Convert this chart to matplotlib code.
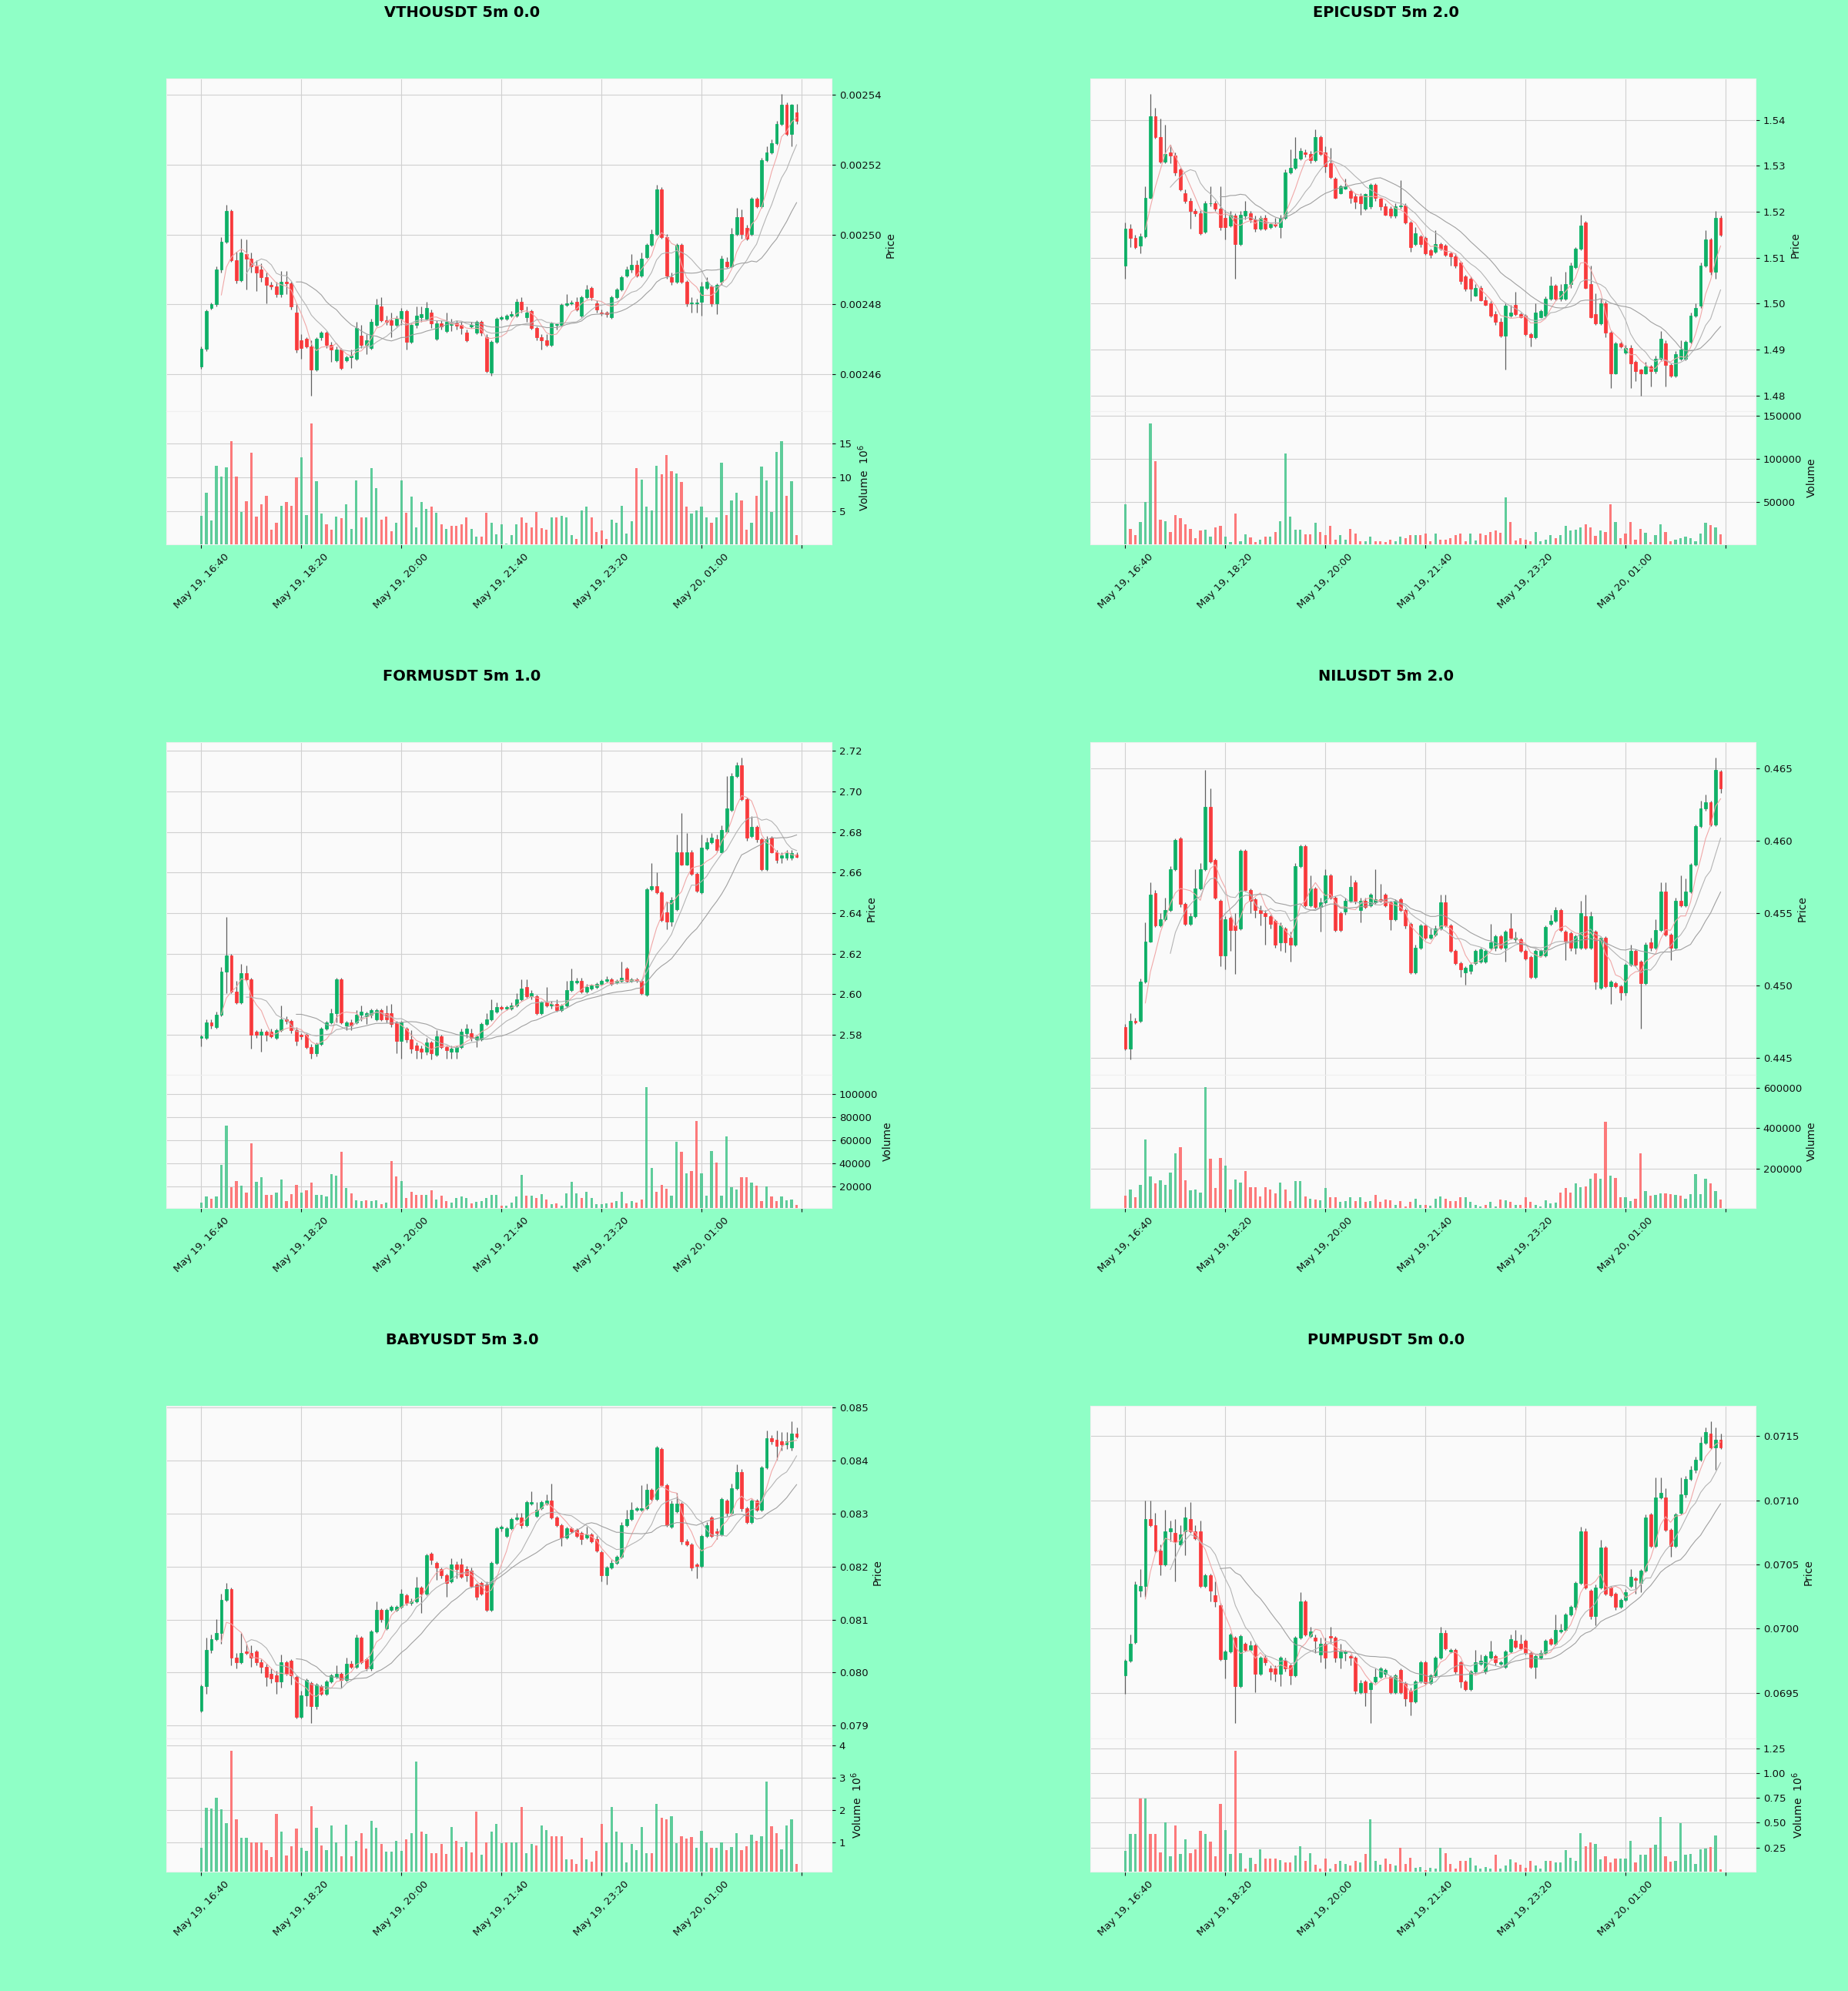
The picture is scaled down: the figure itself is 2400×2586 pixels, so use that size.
import numpy as np
import pandas as pd
import matplotlib
matplotlib.use("Agg")
import matplotlib.pyplot as plt
from matplotlib.ticker import FixedLocator, FuncFormatter, FormatStrFormatter

# ---------------- data ----------------
start_time = "2025-05-19 16:40"
bar_minutes = "5min"
titles = ["VTHOUSDT 5m 0.0", "EPICUSDT 5m 2.0", "FORMUSDT 5m 1.0",
          "NILUSDT 5m 2.0", "BABYUSDT 5m 3.0", "PUMPUSDT 5m 0.0"]

# VTHOUSDT (prices in units of 1e-5 USDT, volume in 1e6)
vtho_open = [246.21, 246.72, 247.89, 248.01, 249.00, 249.80, 250.68, 249.27, 248.69, 249.45,
             249.31, 249.09, 249.00, 248.78, 248.56, 248.51, 248.29, 248.65, 248.60, 247.76,
             246.96, 247.01, 246.79, 246.12, 247.05, 247.19, 246.83, 246.39, 246.70, 246.39,
             246.48, 246.43, 247.10, 246.83, 246.74, 247.41, 247.94, 247.54, 247.54, 247.41,
             247.58, 247.81, 246.92, 247.41, 247.63, 247.58, 247.76, 247.01, 247.45, 247.23,
             247.41, 247.45, 247.41, 247.19, 247.36, 247.19, 247.50, 247.05, 246.03, 246.92,
             247.58, 247.58, 247.67, 247.67, 248.07, 247.63, 247.81, 247.32, 247.05, 246.96,
             246.83, 247.41, 247.41, 247.98, 248.03, 248.07, 247.67, 248.20, 248.47, 248.03,
             247.76, 247.76, 247.63, 248.20, 248.42, 248.82, 249.00, 249.13, 248.82, 249.35,
             249.71, 250.02, 251.30, 249.93, 248.78, 248.65, 249.71, 248.65, 248.03, 248.03,
             248.07, 248.47, 248.51, 248.03, 248.65, 249.22, 249.09, 250.02, 250.50, 250.19,
             250.02, 251.04, 250.81, 252.14, 252.36, 252.63, 253.16, 253.73, 252.89, 253.51]
vtho_close = [246.72, 247.81, 248.01, 249.00, 249.80, 250.68, 249.27, 248.69, 249.49, 249.31,
              249.09, 248.91, 248.78, 248.56, 248.51, 248.29, 248.65, 248.60, 247.94, 246.70,
              246.74, 246.79, 246.12, 247.01, 247.19, 246.83, 246.70, 246.70, 246.17, 246.48,
              246.52, 247.32, 246.83, 246.96, 247.50, 247.98, 247.54, 247.50, 247.41, 247.58,
              247.81, 246.92, 247.41, 247.67, 247.72, 247.89, 247.45, 247.45, 247.36, 247.50,
              247.43, 247.38, 247.32, 246.96, 247.42, 247.50, 247.19, 246.08, 246.92, 247.58,
              247.62, 247.67, 247.72, 248.07, 247.85, 247.76, 247.32, 247.05, 246.96, 246.83,
              247.45, 247.43, 247.98, 248.03, 248.05, 247.85, 248.20, 248.42, 248.20, 247.85,
              247.74, 247.72, 248.20, 248.42, 248.78, 249.00, 249.13, 248.82, 249.31, 249.71,
              250.02, 251.30, 249.93, 248.82, 248.65, 249.71, 248.65, 248.03, 248.05, 248.05,
              248.51, 248.65, 248.03, 248.56, 249.31, 249.09, 250.02, 250.50, 250.02, 249.88,
              251.04, 250.81, 252.14, 252.36, 252.63, 253.16, 253.73, 252.89, 253.73, 253.25]
vtho_high = [246.80, 247.86, 248.05, 249.09, 249.93, 250.86, 250.73, 249.50, 249.89, 249.85,
             249.49, 249.27, 249.18, 248.91, 248.65, 248.65, 248.96, 248.96, 248.65, 248.03,
             247.14, 247.05, 246.96, 247.05, 247.23, 247.23, 246.92, 246.79, 246.74, 246.52,
             246.70, 247.50, 247.41, 247.14, 247.58, 248.16, 248.20, 247.67, 247.76, 247.67,
             247.89, 247.85, 247.45, 247.94, 247.94, 248.07, 247.85, 247.54, 247.54, 247.76,
             247.58, 247.54, 247.50, 247.27, 247.50, 247.54, 247.54, 247.14, 246.96, 247.63,
             247.67, 247.72, 247.81, 248.16, 248.20, 247.94, 247.85, 247.36, 247.14, 247.14,
             247.50, 247.45, 248.03, 248.29, 248.12, 248.20, 248.25, 248.56, 248.51, 248.12,
             247.85, 247.81, 248.25, 248.47, 248.82, 249.09, 249.44, 249.27, 249.49, 249.75,
             250.15, 251.43, 251.35, 250.02, 248.91, 249.75, 249.75, 248.69, 248.20, 248.16,
             248.65, 248.78, 248.56, 248.60, 249.40, 249.35, 250.20, 250.77, 250.73, 250.28,
             251.08, 251.08, 252.19, 252.54, 252.72, 253.25, 254.04, 253.78, 253.75, 253.75]
vtho_low = [246.15, 246.66, 247.85, 247.94, 248.90, 249.75, 249.22, 248.60, 248.65, 248.42,
            248.91, 248.38, 248.65, 248.03, 248.42, 248.20, 248.20, 248.29, 247.85, 246.61,
            246.43, 246.74, 245.37, 246.08, 246.96, 246.74, 246.35, 246.35, 246.12, 246.35,
            246.17, 246.39, 246.74, 246.57, 246.70, 247.36, 247.50, 247.41, 247.05, 247.36,
            247.41, 246.70, 246.88, 247.32, 247.50, 247.54, 247.32, 246.96, 247.27, 247.19,
            247.23, 247.27, 247.14, 246.92, 247.32, 247.14, 247.10, 246.03, 245.95, 246.88,
            247.54, 247.54, 247.63, 247.63, 247.76, 247.50, 247.27, 246.96, 246.70, 246.79,
            246.79, 247.27, 247.36, 247.94, 247.98, 247.81, 247.63, 248.16, 248.12, 247.76,
            247.67, 247.63, 247.58, 248.16, 248.38, 248.78, 248.91, 248.78, 248.78, 249.31,
            249.66, 249.97, 249.88, 248.73, 248.56, 248.60, 248.60, 247.94, 247.76, 247.76,
            247.67, 248.42, 247.94, 247.72, 248.56, 249.05, 249.05, 249.97, 249.88, 249.84,
            249.97, 250.77, 250.77, 252.10, 252.32, 252.58, 253.12, 252.85, 252.54, 253.16]
vtho_volume = [4.3, 7.7, 3.6, 11.7, 10.1, 11.5, 15.4, 10.1, 4.8, 6.5,
               13.6, 4.2, 6.0, 7.3, 2.2, 3.3, 5.8, 6.3, 5.8, 10.0,
               13.0, 4.4, 18.0, 9.4, 4.6, 3.0, 2.2, 4.2, 3.9, 6.0,
               2.3, 9.5, 4.0, 4.0, 11.4, 8.4, 3.7, 4.2, 2.0, 3.2,
               9.5, 4.7, 7.1, 2.6, 6.3, 5.3, 5.6, 4.7, 3.0, 2.3,
               2.8, 2.8, 3.0, 4.1, 2.3, 1.2, 1.2, 4.7, 3.3, 1.5,
               3.0, 0.2, 1.4, 3.0, 4.0, 3.2, 2.6, 4.9, 2.4, 2.2,
               4.0, 4.0, 4.3, 4.0, 1.4, 0.9, 5.1, 5.6, 4.1, 1.9,
               2.1, 0.9, 3.7, 3.3, 5.8, 1.7, 3.5, 11.4, 9.7, 5.6,
               5.1, 11.7, 10.5, 13.3, 10.9, 10.6, 9.3, 5.7, 4.6, 5.1,
               5.6, 4.0, 3.2, 4.0, 12.1, 4.4, 6.6, 7.7, 6.6, 2.2,
               3.3, 7.2, 11.6, 9.5, 4.9, 13.7, 15.3, 7.2, 9.4, 1.4]

# EPICUSDT
epic_open = [1.5082, 1.5164, 1.5143, 1.5126, 1.5147, 1.5231, 1.5407, 1.5363, 1.5309, 1.5329,
             1.5322, 1.5292, 1.5241, 1.5224, 1.5201, 1.5197, 1.5157, 1.5218, 1.5218, 1.5207,
             1.5187, 1.5170, 1.5191, 1.5130, 1.5191, 1.5197, 1.5184, 1.5164, 1.5187, 1.5167,
             1.5174, 1.5167, 1.5187, 1.5285, 1.5295, 1.5316, 1.5329, 1.5326, 1.5312, 1.5363,
             1.5329, 1.5305, 1.5272, 1.5241, 1.5251, 1.5245, 1.5234, 1.5234, 1.5207, 1.5211,
             1.5258, 1.5228, 1.5211, 1.5207, 1.5191, 1.5211, 1.5214, 1.5177, 1.5130, 1.5147,
             1.5143, 1.5116, 1.5113, 1.5130, 1.5126, 1.5109, 1.5103, 1.5089, 1.5059, 1.5055,
             1.5018, 1.5035, 1.5008, 1.5001, 1.4978, 1.4961, 1.4930, 1.4974, 1.4998, 1.4978,
             1.4974, 1.4934, 1.4927, 1.4971, 1.4974, 1.5011, 1.5039, 1.5011, 1.5011, 1.5042,
             1.5079, 1.5120, 1.5177, 1.5042, 1.4978, 1.4957, 1.5001, 1.4937, 1.4849, 1.4914,
             1.4893, 1.4903, 1.4873, 1.4856, 1.4849, 1.4863, 1.4853, 1.4880, 1.4914, 1.4866,
             1.4843, 1.4880, 1.4880, 1.4917, 1.4974, 1.4995, 1.5082, 1.5140, 1.5069, 1.5187]
epic_close = [1.5164, 1.5143, 1.5123, 1.5147, 1.5231, 1.5407, 1.5363, 1.5309, 1.5326, 1.5322,
              1.5285, 1.5248, 1.5224, 1.5201, 1.5196, 1.5153, 1.5218, 1.5219, 1.5207, 1.5167,
              1.5167, 1.5194, 1.5130, 1.5194, 1.5201, 1.5184, 1.5164, 1.5187, 1.5164, 1.5174,
              1.5170, 1.5187, 1.5285, 1.5295, 1.5316, 1.5332, 1.5326, 1.5312, 1.5363, 1.5326,
              1.5299, 1.5275, 1.5231, 1.5255, 1.5255, 1.5231, 1.5221, 1.5218, 1.5238, 1.5258,
              1.5231, 1.5211, 1.5194, 1.5191, 1.5211, 1.5214, 1.5177, 1.5123, 1.5153, 1.5130,
              1.5109, 1.5106, 1.5130, 1.5120, 1.5106, 1.5103, 1.5082, 1.5049, 1.5032, 1.5032,
              1.5035, 1.5008, 1.4998, 1.4974, 1.4961, 1.4930, 1.4995, 1.4981, 1.4978, 1.4971,
              1.4934, 1.4927, 1.4981, 1.4984, 1.5011, 1.5039, 1.5011, 1.5028, 1.5042, 1.5082,
              1.5120, 1.5170, 1.5035, 1.4971, 1.4957, 1.5001, 1.4937, 1.4849, 1.4914, 1.4907,
              1.4903, 1.4870, 1.4853, 1.4849, 1.4863, 1.4853, 1.4880, 1.4924, 1.4866, 1.4843,
              1.4890, 1.4900, 1.4917, 1.4974, 1.4991, 1.5082, 1.5140, 1.5069, 1.5187, 1.5150]
epic_high = [1.5177, 1.5174, 1.5150, 1.5153, 1.5255, 1.5457, 1.5427, 1.5403, 1.5390, 1.5346,
             1.5329, 1.5295, 1.5248, 1.5231, 1.5207, 1.5204, 1.5224, 1.5255, 1.5224, 1.5255,
             1.5204, 1.5201, 1.5197, 1.5201, 1.5224, 1.5201, 1.5191, 1.5191, 1.5194, 1.5177,
             1.5187, 1.5194, 1.5292, 1.5336, 1.5363, 1.5339, 1.5336, 1.5332, 1.5380, 1.5366,
             1.5343, 1.5339, 1.5275, 1.5258, 1.5272, 1.5251, 1.5241, 1.5241, 1.5241, 1.5262,
             1.5262, 1.5231, 1.5218, 1.5211, 1.5218, 1.5268, 1.5218, 1.5180, 1.5167, 1.5150,
             1.5147, 1.5120, 1.5160, 1.5133, 1.5130, 1.5113, 1.5109, 1.5093, 1.5062, 1.5059,
             1.5042, 1.5039, 1.5015, 1.5005, 1.4984, 1.4968, 1.5001, 1.4998, 1.5025, 1.4981,
             1.4978, 1.4937, 1.5001, 1.4988, 1.5015, 1.5059, 1.5042, 1.5042, 1.5069, 1.5089,
             1.5123, 1.5194, 1.5180, 1.5082, 1.5022, 1.5011, 1.5005, 1.4941, 1.4917, 1.4917,
             1.4910, 1.4910, 1.4876, 1.4859, 1.4873, 1.4866, 1.4886, 1.4941, 1.4920, 1.4870,
             1.4897, 1.4920, 1.4920, 1.4981, 1.5001, 1.5089, 1.5160, 1.5143, 1.5201, 1.5191]
epic_low = [1.5055, 1.5123, 1.5120, 1.5109, 1.5143, 1.5228, 1.5359, 1.5305, 1.5305, 1.5305,
            1.5278, 1.5245, 1.5218, 1.5164, 1.5190, 1.5150, 1.5153, 1.5211, 1.5201, 1.5160,
            1.5140, 1.5167, 1.5055, 1.5126, 1.5184, 1.5177, 1.5157, 1.5160, 1.5160, 1.5164,
            1.5167, 1.5143, 1.5184, 1.5282, 1.5292, 1.5312, 1.5319, 1.5305, 1.5309, 1.5322,
            1.5285, 1.5272, 1.5228, 1.5238, 1.5248, 1.5218, 1.5207, 1.5194, 1.5204, 1.5207,
            1.5224, 1.5204, 1.5191, 1.5187, 1.5187, 1.5207, 1.5174, 1.5113, 1.5126, 1.5123,
            1.5106, 1.5099, 1.5109, 1.5116, 1.5103, 1.5082, 1.5078, 1.5042, 1.5028, 1.5005,
            1.5015, 1.5005, 1.4995, 1.4971, 1.4954, 1.4927, 1.4856, 1.4971, 1.4974, 1.4968,
            1.4930, 1.4907, 1.4924, 1.4968, 1.4971, 1.5008, 1.5008, 1.5005, 1.5008, 1.5035,
            1.5076, 1.5116, 1.5032, 1.4968, 1.4954, 1.4954, 1.4927, 1.4816, 1.4846, 1.4903,
            1.4890, 1.4816, 1.4832, 1.4799, 1.4846, 1.4819, 1.4849, 1.4876, 1.4819, 1.4839,
            1.4839, 1.4876, 1.4876, 1.4914, 1.4971, 1.4991, 1.5079, 1.5062, 1.5055, 1.5147]
epic_volume = [47100, 18600, 11400, 26800, 50000, 141000, 97000, 29300, 27500, 15000,
               34600, 31000, 24600, 18600, 7900, 16800, 17900, 10400, 21000, 22100,
               9600, 3600, 37100, 4300, 12500, 8900, 3600, 6100, 9600, 9600,
               15700, 27500, 106000, 32800, 17900, 17900, 12500, 12500, 25700, 15000,
               11400, 22100, 6100, 11400, 6100, 18600, 13200, 4300, 4300, 9600,
               4300, 4300, 3600, 6100, 4300, 10400, 7900, 11400, 12100, 11400,
               13200, 4300, 13200, 6100, 6800, 7900, 11400, 13200, 4300, 13200,
               5400, 13200, 11400, 15000, 16800, 14300, 55000, 26800, 5400, 7900,
               6100, 4300, 15700, 4300, 6100, 11400, 7900, 11400, 22100, 16800,
               17900, 20400, 23900, 20400, 10700, 16800, 15700, 47100, 26800, 7900,
               13200, 26800, 6100, 18600, 14300, 3600, 11400, 23900, 15700, 4300,
               6100, 7900, 9600, 7900, 5000, 13200, 26400, 23200, 20400, 12500]

# FORMUSDT
form_open = [2.5784, 2.5784, 2.5860, 2.5837, 2.5899, 2.6113, 2.6190, 2.6014, 2.5960, 2.6105,
             2.6075, 2.5815, 2.5799, 2.5815, 2.5815, 2.5784, 2.5822, 2.5876, 2.5868, 2.5822,
             2.5799, 2.5799, 2.5738, 2.5707, 2.5753, 2.5830, 2.5860, 2.5906, 2.6075, 2.5845,
             2.5860, 2.5860, 2.5899, 2.5891, 2.5899, 2.5876, 2.5922, 2.5906, 2.5906, 2.5860,
             2.5769, 2.5830, 2.5776, 2.5746, 2.5730, 2.5715, 2.5761, 2.5700, 2.5792, 2.5738,
             2.5715, 2.5715, 2.5738, 2.5807, 2.5807, 2.5776, 2.5776, 2.5853, 2.5876, 2.5914,
             2.5937, 2.5929, 2.5929, 2.5945, 2.5975, 2.6036, 2.5991, 2.5991, 2.5906, 2.5960,
             2.5945, 2.5952, 2.5922, 2.5945, 2.6021, 2.6059, 2.6067, 2.6014, 2.6029, 2.6036,
             2.6052, 2.6067, 2.6075, 2.6059, 2.6067, 2.6128, 2.6067, 2.6075, 2.6067, 2.5998,
             2.6519, 2.6534, 2.6503, 2.6404, 2.6358, 2.6419, 2.6702, 2.6641, 2.6702, 2.6595,
             2.6503, 2.6718, 2.6748, 2.6764, 2.6702, 2.6802, 2.6909, 2.7078, 2.7131, 2.6963,
             2.6779, 2.6825, 2.6764, 2.6618, 2.6771, 2.6702, 2.6672, 2.6672, 2.6672, 2.6690]
form_close = [2.5794, 2.5860, 2.5845, 2.5899, 2.6113, 2.6190, 2.6014, 2.5960, 2.6105, 2.6075,
              2.5799, 2.5799, 2.5815, 2.5799, 2.5792, 2.5822, 2.5876, 2.5868, 2.5822, 2.5769,
              2.5792, 2.5738, 2.5707, 2.5753, 2.5830, 2.5860, 2.5906, 2.6075, 2.5860, 2.5860,
              2.5845, 2.5899, 2.5914, 2.5906, 2.5922, 2.5922, 2.5876, 2.5876, 2.5853, 2.5769,
              2.5860, 2.5776, 2.5730, 2.5723, 2.5715, 2.5761, 2.5707, 2.5792, 2.5738, 2.5723,
              2.5730, 2.5738, 2.5815, 2.5830, 2.5784, 2.5792, 2.5853, 2.5876, 2.5922, 2.5937,
              2.5929, 2.5937, 2.5945, 2.5975, 2.6029, 2.5991, 2.6006, 2.5906, 2.5960, 2.5945,
              2.5952, 2.5922, 2.5945, 2.6021, 2.6067, 2.6067, 2.6014, 2.6036, 2.6044, 2.6052,
              2.6067, 2.6075, 2.6052, 2.6067, 2.6082, 2.6067, 2.6075, 2.6067, 2.6006, 2.6519,
              2.6534, 2.6503, 2.6366, 2.6358, 2.6465, 2.6702, 2.6641, 2.6702, 2.6595, 2.6511,
              2.6725, 2.6748, 2.6771, 2.6710, 2.6810, 2.6917, 2.7078, 2.7131, 2.6963, 2.6771,
              2.6825, 2.6764, 2.6618, 2.6764, 2.6702, 2.6664, 2.6687, 2.6695, 2.6695, 2.6679]
form_high = [2.5799, 2.5876, 2.5876, 2.5914, 2.6136, 2.6381, 2.6197, 2.6067, 2.6151, 2.6143,
             2.6082, 2.5822, 2.5830, 2.5822, 2.5830, 2.5830, 2.5945, 2.5891, 2.5876, 2.5837,
             2.5807, 2.5807, 2.5753, 2.5761, 2.5837, 2.5868, 2.5929, 2.6082, 2.6082, 2.5868,
             2.5876, 2.5922, 2.5945, 2.5914, 2.5929, 2.5929, 2.5929, 2.5945, 2.5952, 2.5868,
             2.5868, 2.5837, 2.5822, 2.5761, 2.5746, 2.5784, 2.5769, 2.5822, 2.5799, 2.5746,
             2.5746, 2.5746, 2.5830, 2.5853, 2.5830, 2.5799, 2.5860, 2.5906, 2.5975, 2.5960,
             2.5945, 2.5945, 2.5960, 2.6006, 2.6075, 2.6075, 2.6021, 2.5998, 2.5968, 2.6036,
             2.5968, 2.5975, 2.5952, 2.6067, 2.6128, 2.6082, 2.6082, 2.6052, 2.6052, 2.6059,
             2.6075, 2.6090, 2.6082, 2.6075, 2.6159, 2.6136, 2.6082, 2.6082, 2.6075, 2.6526,
             2.6649, 2.6603, 2.6511, 2.6458, 2.6481, 2.6787, 2.6894, 2.6794, 2.6710, 2.6603,
             2.6787, 2.6771, 2.6794, 2.6787, 2.6833, 2.7078, 2.7093, 2.7146, 2.7169, 2.6970,
             2.6879, 2.6833, 2.6771, 2.6779, 2.6779, 2.6710, 2.6702, 2.6710, 2.6710, 2.6702]
form_low = [2.5742, 2.5776, 2.5830, 2.5830, 2.5891, 2.6006, 2.6006, 2.5952, 2.5952, 2.6067,
            2.5730, 2.5784, 2.5715, 2.5768, 2.5784, 2.5776, 2.5815, 2.5853, 2.5807, 2.5746,
            2.5776, 2.5730, 2.5684, 2.5692, 2.5746, 2.5822, 2.5853, 2.5860, 2.5853, 2.5822,
            2.5822, 2.5853, 2.5868, 2.5853, 2.5883, 2.5868, 2.5868, 2.5860, 2.5837, 2.5707,
            2.5684, 2.5761, 2.5707, 2.5684, 2.5684, 2.5700, 2.5677, 2.5692, 2.5730, 2.5684,
            2.5684, 2.5684, 2.5730, 2.5784, 2.5769, 2.5738, 2.5769, 2.5845, 2.5868, 2.5906,
            2.5922, 2.5922, 2.5922, 2.5937, 2.5968, 2.5983, 2.5975, 2.5899, 2.5899, 2.5937,
            2.5929, 2.5914, 2.5914, 2.5937, 2.6014, 2.6052, 2.6006, 2.6006, 2.6021, 2.6029,
            2.6044, 2.6059, 2.6044, 2.6052, 2.6059, 2.6059, 2.6059, 2.6059, 2.5998, 2.5991,
            2.6511, 2.6496, 2.6358, 2.6320, 2.6335, 2.6412, 2.6634, 2.6634, 2.6588, 2.6503,
            2.6496, 2.6710, 2.6741, 2.6702, 2.6695, 2.6794, 2.6901, 2.7070, 2.6955, 2.6756,
            2.6771, 2.6748, 2.6611, 2.6611, 2.6695, 2.6649, 2.6649, 2.6664, 2.6664, 2.6672]
form_volume = [5900, 11200, 9000, 10700, 38700, 73000, 19200, 24500, 20500, 14700,
               57000, 23700, 28000, 12500, 12500, 14700, 25900, 7200, 13300, 21300,
               14700, 16500, 23200, 12500, 12500, 11200, 30400, 29300, 49900, 18700,
               13900, 8000, 7200, 8000, 6700, 8000, 4500, 5900, 41900, 28500,
               24500, 9900, 15200, 12500, 12500, 12500, 16500, 8500, 12000, 7200,
               5900, 9900, 11200, 9900, 5100, 6400, 7200, 9900, 12500, 12500,
               3200, 3200, 5900, 11200, 29900, 12000, 12000, 9900, 13100, 8500,
               4500, 5100, 3200, 13900, 24000, 13900, 9900, 15200, 9900, 4000,
               4000, 5100, 5900, 7200, 15200, 5100, 7200, 5900, 8500, 106400,
               35700, 15200, 21300, 17900, 12000, 58700, 49900, 31200, 33100, 76500,
               31200, 12000, 50700, 40500, 12000, 63200, 19200, 17100, 28000, 28000,
               23200, 20500, 7200, 20000, 11200, 6700, 11200, 8000, 8500, 3700]

# NILUSDT
nil_open = [.44715, .44565, .44758, .44758, .45026, .45306, .45640, .45414, .45457, .45522,
            .45801, .46016, .45565, .45425, .45478, .45672, .45801, .46231, .45866, .45586,
            .45210, .45468, .45414, .45392, .45930, .45661, .45597, .45522, .45500, .45478,
            .45446, .45296, .45392, .45328, .45285, .45823, .45962, .45554, .45672, .45543,
            .45575, .45758, .45608, .45500, .45511, .45586, .45715, .45522, .45586, .45554,
            .45575, .45597, .45629, .45575, .45457, .45597, .45522, .45425, .45092, .45263,
            .45414, .45328, .45349, .45392, .45575, .45414, .45242, .45156, .45092, .45102,
            .45156, .45167, .45167, .45263, .45263, .45339, .45263, .45392, .45317, .45317,
            .45242, .45199, .45059, .45210, .45210, .45425, .45446, .45522, .45371, .45360,
            .45263, .45263, .45478, .45263, .45371, .44984, .45328, .44995, .45016, .44995,
            .44952, .45145, .45242, .45167, .45016, .45296, .45263, .45382, .45651, .45349,
            .45263, .45586, .45554, .45651, .45833, .46102, .46220, .46263, .46113, .46478]
nil_close = [.44565, .44758, .44747, .45026, .45306, .45629, .45414, .45457, .45522, .45801,
             .46005, .45565, .45425, .45478, .45672, .45801, .46231, .45855, .45608, .45210,
             .45457, .45382, .45382, .45930, .45661, .45586, .45522, .45500, .45478, .45425,
             .45285, .45414, .45296, .45285, .45823, .45962, .45554, .45672, .45543, .45575,
             .45758, .45608, .45382, .45382, .45586, .45683, .45586, .45586, .45543, .45629,
             .45597, .45586, .45554, .45457, .45586, .45522, .45414, .45092, .45263, .45414,
             .45328, .45349, .45392, .45575, .45414, .45242, .45156, .45113, .45124, .45145,
             .45242, .45253, .45242, .45296, .45339, .45263, .45371, .45328, .45328, .45242,
             .45188, .45059, .45242, .45242, .45403, .45446, .45522, .45382, .45306, .45263,
             .45339, .45500, .45263, .45478, .45026, .45328, .44995, .45026, .44995, .44952,
             .45145, .45242, .45145, .45016, .45285, .45263, .45382, .45651, .45349, .45263,
             .45586, .45554, .45651, .45833, .46102, .46220, .46263, .46113, .46489, .46360]
nil_high = [.44737, .44812, .44780, .45048, .45435, .45715, .45661, .45500, .45608, .45823,
            .46016, .46027, .45575, .45500, .45801, .45844, .46489, .46360, .45876, .45597,
            .45478, .45478, .45500, .45941, .45941, .45672, .45608, .45554, .45522, .45489,
            .45457, .45435, .45403, .45371, .45844, .45973, .45973, .45758, .45683, .45608,
            .45801, .45769, .45618, .45511, .45608, .45758, .45726, .45608, .45608, .45640,
            .45801, .45704, .45640, .45586, .45597, .45608, .45532, .45435, .45285, .45425,
            .45425, .45392, .45414, .45629, .45629, .45425, .45253, .45167, .45134, .45156,
            .45253, .45263, .45253, .45425, .45349, .45349, .45382, .45500, .45371, .45328,
            .45253, .45210, .45253, .45253, .45414, .45489, .45543, .45532, .45382, .45371,
            .45349, .45586, .45629, .45511, .45382, .45339, .45339, .45038, .45026, .45005,
            .45156, .45285, .45253, .45177, .45296, .45328, .45457, .45715, .45715, .45360,
            .45608, .45758, .45737, .45844, .46113, .46274, .46317, .46274, .46575, .46489]
nil_low = [.44554, .44489, .44737, .44747, .45016, .45296, .45403, .45403, .45446, .45511,
           .45790, .45543, .45414, .45414, .45468, .45661, .45790, .45844, .45597, .45134,
           .45113, .45242, .45081, .45382, .45651, .45500, .45468, .45414, .45285, .45392,
           .45263, .45242, .45231, .45167, .45274, .45812, .45543, .45543, .45532, .45371,
           .45565, .45597, .45371, .45371, .45489, .45575, .45565, .45435, .45532, .45543,
           .45565, .45575, .45543, .45382, .45446, .45511, .45392, .45081, .45081, .45253,
           .45317, .45317, .45339, .45382, .45403, .45231, .45145, .45059, .45005, .45081,
           .45145, .45156, .45156, .45253, .45242, .45253, .45167, .45317, .45306, .45231,
           .45177, .45048, .45048, .45199, .45199, .45414, .45435, .45371, .45177, .45242,
           .45220, .45253, .45253, .45253, .44973, .44973, .44984, .44876, .44984, .44898,
           .44930, .45134, .45134, .44704, .45005, .45242, .45253, .45371, .45339, .45177,
           .45253, .45543, .45543, .45640, .45823, .46091, .46209, .46102, .46102, .46328]
nil_volume = [65700, 93100, 55000, 119000, 345000, 159000, 124000, 139000, 116000, 180000,
              276000, 304000, 142000, 90000, 96000, 78000, 605000, 246000, 101000, 253000,
              215000, 93000, 144000, 131000, 185000, 108000, 105000, 60000, 108000, 93000,
              75000, 131000, 93000, 37000, 136000, 136000, 60000, 47000, 43000, 40000,
              101000, 55000, 55000, 32000, 37000, 55000, 37000, 55000, 32000, 37000,
              67000, 32000, 44000, 40000, 17000, 37000, 9000, 32000, 47000, 17000,
              17000, 14000, 47000, 60000, 47000, 37000, 37000, 55000, 55000, 32000,
              17000, 9000, 17000, 32000, 9000, 44000, 40000, 32000, 17000, 17000,
              55000, 32000, 17000, 9000, 40000, 24000, 29000, 78000, 101000, 78000,
              124000, 108000, 111000, 147000, 177000, 147000, 432000, 162000, 151000, 55000,
              55000, 37000, 47000, 276000, 86000, 63000, 67000, 75000, 75000, 70000,
              67000, 63000, 47000, 70000, 170000, 70000, 147000, 124000, 86000, 44000]

# BABYUSDT (volume in 1e6)
baby_open = [.079276, .079747, .080424, .080629, .080747, .081365, .081571, .080276, .080188, .080394,
             .080365, .080394, .080188, .080100, .079982, .079953, .079835, .080188, .080218, .079924,
             .079159, .079571, .079806, .079365, .079747, .079600, .079835, .079924, .079982, .079865,
             .080159, .080100, .080659, .080247, .080071, .080776, .081188, .080835, .081188, .081188,
             .081247, .081453, .081306, .081335, .081600, .081482, .082247, .082071, .081953, .081835,
             .081718, .082041, .082041, .081953, .081924, .081659, .081688, .081659, .081188, .082071,
             .082718, .082571, .082718, .082894, .082924, .082776, .083188, .082953, .083100, .083188,
             .083247, .082924, .082776, .082541, .082718, .082688, .082629, .082541, .082600, .082512,
             .082276, .081835, .081982, .082071, .082188, .082776, .082894, .083071, .083071, .083100,
             .083453, .083276, .084218, .083541, .082747, .083041, .083188, .082482, .082424, .082041,
             .082012, .082571, .082924, .082659, .082600, .083247, .083012, .083482, .083776, .083100,
             .082835, .083247, .083071, .083865, .084424, .084394, .084365, .084306, .084247, .084512]
baby_close = [.079747, .080424, .080629, .080747, .081365, .081571, .080276, .080188, .080365, .080365,
              .080276, .080188, .080100, .079924, .079894, .079835, .080188, .079982, .079953, .079159,
              .079571, .079865, .079365, .079776, .079600, .079835, .079953, .079982, .079865, .080159,
              .080100, .080659, .080188, .080071, .080776, .081188, .081012, .081188, .081247, .081247,
              .081482, .081306, .081335, .081600, .081482, .082218, .082129, .081982, .081835, .081688,
              .082041, .081953, .081806, .081835, .081629, .081424, .081482, .081188, .082071, .082718,
              .082747, .082718, .082894, .082924, .082776, .083218, .083218, .083071, .083218, .083247,
              .082924, .082776, .082541, .082718, .082659, .082571, .082512, .082600, .082482, .082306,
              .081835, .081982, .082071, .082188, .082776, .082894, .083071, .083100, .083100, .083453,
              .083276, .084247, .083541, .082776, .083188, .083188, .082482, .082424, .081982, .082012,
              .082571, .082776, .082571, .082629, .083276, .083012, .083482, .083776, .083100, .082835,
              .083247, .083071, .083865, .084424, .084365, .084276, .084306, .084365, .084512, .084453]
baby_high = [.079776, .080659, .080718, .081012, .081482, .081688, .081600, .080365, .080747, .080541,
             .080512, .080424, .080247, .080159, .080071, .080041, .080335, .080218, .080247, .079953,
             .079659, .079894, .079835, .079806, .079776, .079865, .079982, .080129, .080012, .080276,
             .080218, .080718, .080688, .080276, .080806, .081335, .081218, .081218, .081276, .081276,
             .081571, .081482, .081394, .081806, .081629, .082247, .082276, .082100, .081982, .081865,
             .082159, .082100, .082159, .082012, .081982, .081688, .081718, .081718, .082100, .082747,
             .082776, .082747, .082924, .083012, .083012, .083247, .083424, .083218, .083247, .083365,
             .083571, .082953, .082806, .082747, .082747, .082718, .082659, .082747, .082629, .082571,
             .082306, .082012, .082129, .082218, .082835, .083071, .083218, .083129, .083541, .083571,
             .083482, .084276, .084247, .083571, .083247, .083394, .083218, .082512, .082453, .082071,
             .082600, .082835, .082953, .082718, .083306, .083276, .083571, .083924, .083835, .083129,
             .083276, .083276, .083894, .084571, .084482, .084571, .084541, .084541, .084747, .084629]
baby_low = [.079247, .079600, .080365, .080600, .080541, .081335, .080129, .080071, .080159, .080335,
            .080100, .080129, .079988, .079747, .079806, .079600, .079718, .079953, .079776, .079129,
            .079129, .079365, .079041, .079306, .079571, .079571, .079806, .079894, .079718, .079835,
            .080071, .080071, .080159, .080041, .080041, .080747, .080953, .080806, .081159, .081159,
            .081218, .081276, .081276, .081306, .081129, .081453, .082041, .081747, .081776, .081424,
            .081688, .081776, .081776, .081718, .081600, .081365, .081453, .081159, .081159, .082041,
            .082659, .082541, .082688, .082865, .082718, .082747, .083159, .082924, .083071, .083159,
            .082894, .082747, .082394, .082512, .082629, .082541, .082424, .082512, .082453, .082276,
            .081718, .081659, .081953, .082041, .082159, .082747, .082865, .083041, .083041, .083071,
            .083247, .083247, .083512, .082747, .082718, .083012, .082424, .082394, .081924, .081776,
            .081982, .082541, .082541, .082512, .082571, .082953, .082982, .083453, .083041, .082806,
            .082806, .083041, .083041, .083835, .084306, .084012, .084188, .084218, .084188, .084424]
baby_volume = [.84, 2.08, 2.05, 2.38, 2.02, 1.60, 3.83, 1.72, 1.15, 1.15,
               1.01, 1.01, 1.01, .77, .54, 1.88, 1.34, .61, .89, 1.44,
               .84, .73, 2.12, 1.46, .90, .77, 1.53, 1.01, .58, 1.56,
               .58, 1.06, 1.29, .82, 1.67, 1.46, .96, .71, .71, 1.06,
               .74, 1.10, 1.29, 3.49, 1.34, 1.27, .68, .68, .96, .65,
               1.48, 1.06, .85, 1.03, .70, 1.96, .63, 1.01, 1.34, 1.58,
               .99, 1.01, 1.01, 1.01, 2.10, .68, .96, .91, 1.53, 1.39,
               1.20, 1.20, 1.20, .47, .47, .33, 1.15, .47, .42, .73,
               1.58, 1.01, 2.10, 1.34, 1.01, .39, .96, .77, 1.48, .68,
               .68, 2.19, 1.77, 1.72, 1.82, .99, 1.20, 1.12, 1.18, .84,
               1.36, 1.01, .84, .84, 1.01, .77, .87, 1.29, .77, .89,
               1.25, 1.06, 1.20, 2.88, 1.50, 1.29, .80, 1.53, 1.72, .33]

# PUMPUSDT (volume in 1e6)
pump_open = [.069638, .069748, .069893, .070294, .070330, .070852, .070803, .070609, .070500, .070755,
             .070743, .070658, .070755, .070852, .070755, .070755, .070330, .070415, .070257, .070184,
             .069760, .069820, .069930, .069553, .069881, .069833, .069869, .069650, .069772, .069687,
             .069687, .069650, .069748, .069711, .069638, .069930, .070209, .069942, .069930, .069796,
             .069881, .069942, .069930, .069772, .069808, .069784, .069772, .069505, .069590, .069529,
             .069590, .069626, .069650, .069626, .069505, .069675, .069578, .069517, .069432, .069590,
             .069735, .069578, .069638, .069772, .069966, .069820, .069833, .069735, .069590, .069529,
             .069663, .069723, .069663, .069772, .069784, .069723, .069699, .069820, .069905, .069881,
             .069905, .069808, .069699, .069772, .069808, .069917, .069881, .069978, .069990, .070112,
             .070172, .070354, .070755, .070294, .070100, .070318, .070633, .070318, .070269, .070172,
             .070221, .070330, .070391, .070354, .070451, .070888, .070646, .071022, .071022, .070767,
             .070646, .070900, .071046, .071167, .071240, .071313, .071447, .071519, .071410, .071471]
pump_close = [.069748, .069881, .070342, .070330, .070852, .070803, .070609, .070500, .070755, .070779,
              .070682, .070731, .070864, .070755, .070706, .070330, .070415, .070294, .070209, .069760,
              .069820, .069954, .069553, .069942, .069833, .069869, .069650, .069772, .069735, .069663,
              .069650, .069772, .069687, .069638, .069930, .070209, .069954, .069978, .069905, .069881,
              .069772, .069930, .069772, .069820, .069820, .069772, .069517, .069578, .069505, .069578,
              .069626, .069687, .069675, .069505, .069638, .069505, .069456, .069432, .069590, .069735,
              .069578, .069638, .069772, .069966, .069845, .069833, .069663, .069590, .069529, .069663,
              .069735, .069748, .069784, .069820, .069735, .069735, .069820, .069917, .069857, .069845,
              .069808, .069699, .069784, .069808, .069905, .069881, .069990, .069990, .070112, .070172,
              .070354, .070755, .070318, .070100, .070318, .070633, .070269, .070257, .070172, .070221,
              .070282, .070403, .070379, .070451, .070864, .070646, .071022, .071058, .070767, .070646,
              .070888, .071046, .071167, .071240, .071313, .071447, .071532, .071410, .071471, .071410]
pump_high = [.069760, .069954, .070367, .070464, .070998, .070998, .070900, .070658, .070925, .070840,
             .070852, .070803, .070949, .070985, .070803, .070840, .070427, .070427, .070367, .070197,
             .069833, .069966, .069942, .069954, .069893, .069905, .069881, .069784, .069796, .069711,
             .069711, .069784, .069772, .069723, .069942, .070282, .070221, .070015, .069954, .069930,
             .069930, .070015, .069942, .069881, .069833, .069796, .069784, .069602, .069602, .069590,
             .069687, .069699, .069687, .069638, .069650, .069687, .069590, .069541, .069602, .069748,
             .069748, .069650, .069784, .070015, .069990, .069845, .069845, .069748, .069602, .069675,
             .069833, .069796, .069796, .069905, .069796, .069748, .069833, .069954, .069990, .069954,
             .069917, .069820, .069796, .069833, .069917, .069930, .070112, .070039, .070124, .070184,
             .070367, .070791, .070779, .070306, .070342, .070694, .070646, .070330, .070282, .070233,
             .070306, .070464, .070403, .070464, .070888, .070900, .071180, .071180, .071095, .070779,
             .070900, .071180, .071192, .071265, .071337, .071495, .071568, .071617, .071568, .071519]
pump_low = [.069493, .069735, .069881, .070245, .070245, .070791, .070597, .070415, .070488, .070682,
            .070367, .070646, .070573, .070743, .070694, .070318, .070318, .070209, .070172, .069748,
            .069614, .069808, .069262, .069541, .069820, .069820, .069505, .069638, .069711, .069602,
            .069590, .069553, .069663, .069566, .069626, .069918, .069942, .069930, .069808, .069735,
            .069687, .069881, .069735, .069687, .069748, .069711, .069493, .069493, .069396, .069262,
            .069578, .069614, .069626, .069493, .069493, .069493, .069396, .069323, .069420, .069578,
            .069566, .069566, .069626, .069760, .069833, .069808, .069650, .069541, .069517, .069517,
            .069650, .069711, .069650, .069760, .069711, .069711, .069687, .069808, .069845, .069833,
            .069796, .069687, .069614, .069760, .069796, .069869, .069869, .069966, .069978, .070100,
            .070148, .070342, .070306, .070075, .070027, .070306, .070257, .070245, .070148, .070160,
            .070209, .070318, .070269, .070282, .070439, .070633, .070633, .071010, .070755, .070561,
            .070633, .070888, .071022, .071155, .071216, .071301, .071434, .071398, .071240, .071398]
pump_volume = [.214, .385, .385, .742, .742, .385, .385, .199, .503, .161,
               .472, .183, .332, .193, .233, .416, .385, .311, .161, .689,
               .425, .183, 1.227, .193, .037, .146, .084, .233, .140, .140,
               .140, .124, .099, .099, .171, .264, .115, .193, .078, .037,
               .140, .037, .084, .115, .084, .068, .115, .099, .183, .534,
               .115, .078, .140, .084, .068, .245, .084, .146, .047, .053,
               .022, .047, .037, .245, .193, .084, .037, .115, .115, .146,
               .068, .037, .053, .037, .177, .037, .068, .130, .099, .078,
               .047, .115, .068, .037, .115, .115, .099, .099, .224, .146,
               .115, .394, .264, .301, .286, .130, .161, .099, .140, .140,
               .140, .317, .099, .177, .177, .245, .276, .559, .161, .109,
               .115, .494, .177, .183, .084, .233, .239, .255, .370, .028]

# unit multipliers of the lists above
price_units = [1e-5, 1, 1, 1, 1, 1]
volume_units = [1e6, 1, 1, 1, 1e6, 1e6]

# axis ticks
price_ticks = [[0.00246, 0.00248, 0.00250, 0.00252, 0.00254],
               [1.48, 1.49, 1.50, 1.51, 1.52, 1.53, 1.54],
               [2.56, 2.58, 2.60, 2.62, 2.64, 2.66, 2.68, 2.70, 2.72],
               [0.445, 0.450, 0.455, 0.460, 0.465],
               [0.079, 0.080, 0.081, 0.082, 0.083, 0.084, 0.085],
               [0.0695, 0.0700, 0.0705, 0.0710, 0.0715]]
price_fmt = ['%.5f', '%.2f', '%.2f', '%.3f', '%.3f', '%.4f']
volume_ticks = [[5e6, 10e6, 15e6],
                [50000, 100000, 150000],
                [20000, 40000, 60000, 80000, 100000],
                [200000, 400000, 600000],
                [1e6, 2e6, 3e6, 4e6],
                [0.25e6, 0.5e6, 0.75e6, 1.0e6, 1.25e6]]
volume_fmt = ['{:g}', '{:d}', '{:d}', '{:d}', '{:g}', '{:.2f}']
volume_exp = [6, 0, 0, 0, 6, 6]
mav_periods = (5, 10, 20)
tick_step = 20

panels = [
    (vtho_open, vtho_high, vtho_low, vtho_close, vtho_volume),
    (epic_open, epic_high, epic_low, epic_close, epic_volume),
    (form_open, form_high, form_low, form_close, form_volume),
    (nil_open, nil_high, nil_low, nil_close, nil_volume),
    (baby_open, baby_high, baby_low, baby_close, baby_volume),
    (pump_open, pump_high, pump_low, pump_close, pump_volume),
]

# ---------------- style ----------------
BG = '#8fffc6'
FACE = '#fafafa'
GRID = '#d0d0d0'
UP, DOWN = '#00b060', '#fe3032'
VUP, VDOWN = '#4dc790', '#fd6b6c'
WICK = '#606060'
MAVC = ['#f0a8a8', '#b4b4b4', '#a0a0a0']
TXT = '#101010'

W, H = 2400, 2586
CELL_W, CELL_H = 1200, 862
fig = plt.figure(figsize=(W / 100, H / 100), dpi=100, facecolor=BG)


def style_axes(ax):
    ax.set_facecolor(FACE)
    for s in ax.spines.values():
        s.set_color('#f0f0f0')
    ax.grid(True, color=GRID, linestyle='-', linewidth=0.8)
    ax.set_axisbelow(True)
    ax.yaxis.tick_right()
    ax.yaxis.set_label_position('right')
    ax.tick_params(axis='both', colors=TXT, labelsize=9.5, length=3.5)


for k, (o, h, l, c, v) in enumerate(panels):
    r, col = divmod(k, 2)
    pu = price_units[k]
    o = np.array(o) * pu
    h = np.array(h) * pu
    l = np.array(l) * pu
    c = np.array(c) * pu
    v = np.array(v) * volume_units[k]
    n = len(c)
    x = np.arange(n)
    times = pd.date_range(start_time, periods=n, freq=bar_minutes)

    x0 = col * CELL_W
    y0 = r * CELL_H
    left = (x0 + 216) / W
    width = 864 / W
    axp = fig.add_axes([left, 1 - (y0 + 534) / H, width, 432 / H])
    axv = fig.add_axes([left, 1 - (y0 + 707) / H, width, 173 / H], sharex=axp)
    style_axes(axp)
    style_axes(axv)

    up = c >= o
    ccol = np.where(up, UP, DOWN)
    axp.vlines(x, l, h, color=WICK, linewidth=0.9, zorder=2)
    axp.bar(x, c - o, bottom=o, width=0.6, color=ccol, edgecolor=ccol,
            linewidth=0.6, alpha=0.9, zorder=3)
    cs = pd.Series(c)
    for p, mc in zip(mav_periods, MAVC):
        axp.plot(x, cs.rolling(p).mean().values, color=mc, linewidth=0.8, zorder=4)

    lo, hi = l.min(), h.max()
    pad = 0.05 * (hi - lo)
    axp.set_ylim(lo - pad, hi + pad)
    axp.yaxis.set_major_locator(FixedLocator(price_ticks[k]))
    axp.yaxis.set_major_formatter(FormatStrFormatter(price_fmt[k]))
    axp.set_ylabel('Price', fontsize=10, color=TXT)
    axp.tick_params(axis='x', labelbottom=False)

    prev = np.concatenate([[o[0]], c[:-1]])
    vup = c >= prev
    vcol = np.where(vup, VUP, VDOWN)
    axv.bar(x, v, width=0.5, color=vcol, alpha=0.9, zorder=3)
    axv.set_ylim(0.3 * v.min(), 1.1 * v.max())
    scale = 10.0 ** volume_exp[k]
    fmt = volume_fmt[k]
    if fmt == '{:d}':
        axv.yaxis.set_major_formatter(FuncFormatter(lambda val, pos, s=scale: '{:d}'.format(int(round(val / s)))))
    else:
        axv.yaxis.set_major_formatter(FuncFormatter(lambda val, pos, s=scale, f=fmt: f.format(val / s)))
    axv.yaxis.set_major_locator(FixedLocator(volume_ticks[k]))
    vlabel = 'Volume' if volume_exp[k] == 0 else 'Volume  $10^{%d}$' % volume_exp[k]
    axv.set_ylabel(vlabel, fontsize=10, color=TXT)

    ticks = list(range(0, n + 1, tick_step))
    labels = [times[t].strftime('%b %d, %H:%M') if t < n else '' for t in ticks]
    axv.set_xticks(ticks)
    axv.set_xticklabels(labels, rotation=45, ha='center', fontsize=9.5)
    axp.set_xlim(-7, n + 6)

    fig.text((x0 + 600) / W, 1 - (y0 + 16) / H, titles[k], ha='center', va='center',
             fontsize=14, fontweight='bold', color='black')

fig.savefig('out.png', dpi=100, facecolor=BG)
